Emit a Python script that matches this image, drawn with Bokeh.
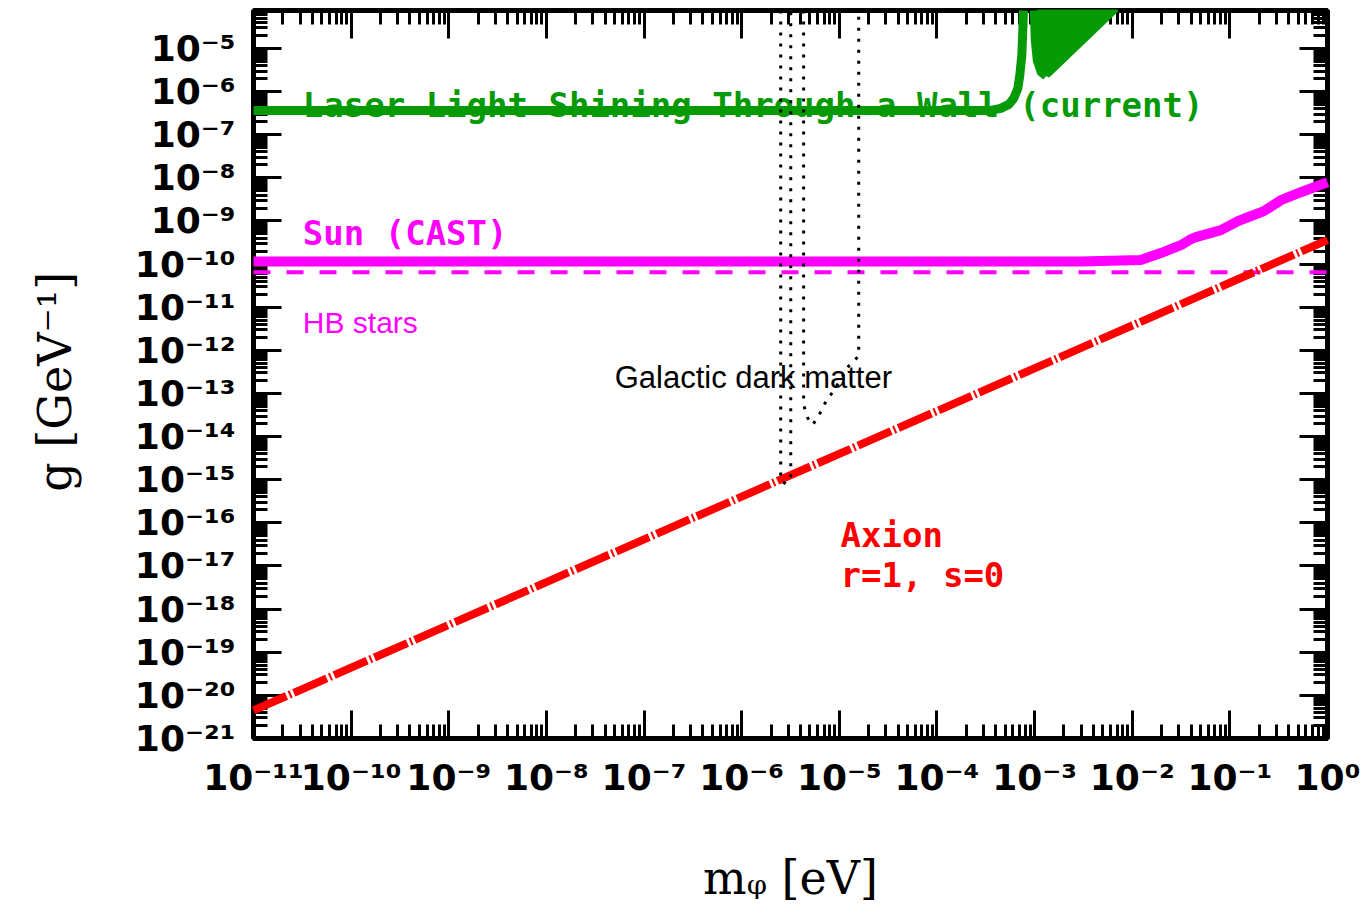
from bokeh.plotting import figure
from bokeh.models import LogAxis, FixedTicker, CustomJSTickFormatter, Label, Range1d
from bokeh.embed import file_html
from bokeh.resources import INLINE

# ---------------- data ----------------
G_TOP = 7.6e-5  # top of the plotted g range

# Laser light shining through a wall (current): flat part + first spike
lsw_m = [1e-11, 3.56e-4, 4.5e-4, 5.45e-4, 6.12e-4, 6.73e-4, 7.05e-4, 7.40e-4, 7.57e-4, 7.70e-4]
lsw_g = [3.67e-7, 3.67e-7, 4.08e-7, 5.06e-7, 6.97e-7, 1.19e-6, 2.37e-6, 6.89e-6, 2.61e-5, 7.6e-5]
# second branch coming back down
lsw2_m = [9.82e-4, 1.005e-3, 1.054e-3, 1.159e-3, 1.303e-3]
lsw2_g = [7.6e-5, 1.53e-5, 5.27e-6, 2.78e-6, 2.25e-6]
# oscillating (filled) part of the LSW limit
lsw_fill_m = [1.08e-3, 1.08e-3, 1.21e-3, 1.40e-3, 7.11e-3]
lsw_fill_g = [7.6e-5, 5.27e-6, 2.64e-6, 2.25e-6, 7.6e-5]

# Sun (CAST)
cast_m = [1e-11, 2.97e-3, 1.22e-2, 1.96e-2, 3.15e-2, 3.98e-2, 4.49e-2, 8.09e-2, 0.121, 0.153,
          0.223, 0.333, 0.533, 1.0]
cast_g = [1.15e-10, 1.15e-10, 1.25e-10, 1.80e-10, 2.75e-10, 3.79e-10, 4.22e-10, 6.12e-10, 9.89e-10,
          1.22e-9, 1.69e-9, 3.03e-9, 4.65e-9, 7.9e-9]

# HB stars
hb_m = [1e-11, 1.0]
hb_g = [6.5e-11, 6.5e-11]

# Axion, r=1, s=0
axion_m = [1e-11, 1.0]
axion_g = [4.47e-21, 3.63e-10]

# Galactic dark matter (dotted)
gdm1_m = [2.51e-6, 2.51e-6, 2.83e-6, 3.18e-6, 3.18e-6]
gdm1_g = [7.6e-5, 9.5e-16, 8.1e-16, 1.24e-15, 7.6e-5]
gdm2_m = [4.31e-6, 4.31e-6, 4.74e-6, 5.33e-6, 6.15e-6, 7.26e-6, 8.56e-6, 1.03e-5, 1.25e-5, 1.58e-5, 1.58e-5]
gdm2_g = [7.6e-5, 5.45e-14, 2.72e-14, 1.88e-14, 3.03e-14, 6.4e-14, 1.09e-13, 2.07e-13, 4.36e-13, 7.4e-13, 7.6e-5]

# axis ticks
x_exps = list(range(-11, 1))
y_exps = list(range(-21, -4))
x_major = [10.0 ** k for k in x_exps]
x_minor = [j * 10.0 ** k for k in x_exps[:-1] for j in range(2, 10)]
y_major = [10.0 ** k for k in y_exps]
y_minor = [j * 10.0 ** k for k in y_exps for j in range(2, 10)]

GREEN = "#069a06"
MAGENTA = "#ff00ff"
RED = "#ff0000"

p = figure(width=1366, height=923, x_axis_type="log", y_axis_type="log",
           x_range=Range1d(1e-11, 1.0), y_range=Range1d(1e-21, G_TOP),
           output_backend="svg", toolbar_location=None,
           min_border_left=253, min_border_right=39, min_border_top=10, min_border_bottom=185)
p.xgrid.visible = False
p.ygrid.visible = False
p.outline_line_color = "black"
p.outline_line_width = 5
p.background_fill_color = "white"
p.border_fill_color = "white"

xax = p.below[0]
yax = p.left[0]

sup_code = """
const e = Math.round(Math.log10(tick));
const sup = {'-':'\u207b','0':'\u2070','1':'\u00b9','2':'\u00b2','3':'\u00b3','4':'\u2074','5':'\u2075','6':'\u2076','7':'\u2077','8':'\u2078','9':'\u2079'};
return '10' + String(e).split('').map(c => sup[c]).join('');
"""

def style_axis(ax, major, minor, labels=True):
    ax.ticker = FixedTicker(ticks=major, minor_ticks=minor)
    ax.axis_line_color = None
    ax.major_tick_in = 28
    ax.major_tick_out = 0
    ax.minor_tick_in = 14
    ax.minor_tick_out = 0
    ax.major_tick_line_width = 3
    ax.minor_tick_line_width = 3
    ax.major_tick_line_color = "black"
    ax.minor_tick_line_color = "black"
    if labels:
        ax.formatter = CustomJSTickFormatter(code=sup_code)
        ax.major_label_text_font = "DejaVu Sans"
        ax.major_label_text_font_style = "bold"
        ax.major_label_text_font_size = "36px"
        ax.major_label_text_color = "black"
        ax.major_label_standoff = 18
    else:
        ax.formatter = CustomJSTickFormatter(code="return ''")
        ax.major_label_text_font_size = "0px"
        ax.major_label_standoff = 0
        ax.axis_label = None

style_axis(xax, x_major, x_minor)
style_axis(yax, y_major, y_minor)

top_ax = LogAxis()
right_ax = LogAxis()
style_axis(top_ax, x_major, x_minor, labels=False)
style_axis(right_ax, y_major, y_minor, labels=False)
p.add_layout(top_ax, "above")
p.add_layout(right_ax, "right")

xax.axis_label = "m\u1d69 [eV]"
xax.axis_label_text_font = "DejaVu Serif"
xax.axis_label_text_font_style = "normal"
xax.axis_label_text_font_size = "46px"
xax.axis_label_text_color = "black"
xax.axis_label_standoff = 50

yax.axis_label = "g  [GeV\u207b\u00b9]"
yax.axis_label_text_font = "DejaVu Serif"
yax.axis_label_text_font_style = "normal"
yax.axis_label_text_font_size = "46px"
yax.axis_label_text_color = "black"
yax.axis_label_standoff = 50

# ---------------- curves (drawn above the tick marks) ----------------
p.line(hb_m, hb_g, line_color=MAGENTA, line_width=4, line_dash="17 16", level="overlay")
p.line(cast_m, cast_g, line_color=MAGENTA, line_width=10, level="overlay")
p.line(axion_m, axion_g, line_color=RED, line_width=8, line_dash="36 3 2 3", level="overlay")
p.patch(lsw_fill_m, lsw_fill_g, fill_color=GREEN, line_color=GREEN, line_width=2, level="overlay")
p.line(lsw_m, lsw_g, line_color=GREEN, line_width=9, line_join="round", level="overlay")
p.line(lsw2_m, lsw2_g, line_color=GREEN, line_width=8, line_join="round", level="overlay")
p.line(gdm1_m, gdm1_g, line_color="black", line_width=3, line_dash="3 8", level="overlay")
p.line(gdm2_m, gdm2_g, line_color="black", line_width=3, line_dash="3 8", level="overlay")

# ---------------- texts ----------------
def add_label(x, y, text, color, font, size, style):
    p.add_layout(Label(x=x, y=y, text=text, text_color=color, text_font=font,
                       text_font_size=size, text_font_style=style, text_baseline="alphabetic",
                       text_align="left"))

add_label(3.2e-11, 4.8e-7, "Laser Light Shining Through a Wall (current)", GREEN, "DejaVu Sans Mono", "34px", "bold")
add_label(3.2e-11, 5.2e-10, "Sun (CAST)", MAGENTA, "DejaVu Sans Mono", "34px", "bold")
add_label(3.2e-11, 4.5e-12, "HB stars", MAGENTA, "Liberation Sans", "30px", "normal")
add_label(5.0e-8, 2.3e-13, "Galactic dark matter", "black", "Liberation Sans", "31px", "normal")
add_label(1.03e-5, 5.3e-17, "Axion", RED, "DejaVu Sans Mono", "34px", "bold")
add_label(1.03e-5, 6.3e-18, "r=1, s=0", RED, "DejaVu Sans Mono", "34px", "bold")

open("out.html", "w").write(file_html(p, INLINE))
